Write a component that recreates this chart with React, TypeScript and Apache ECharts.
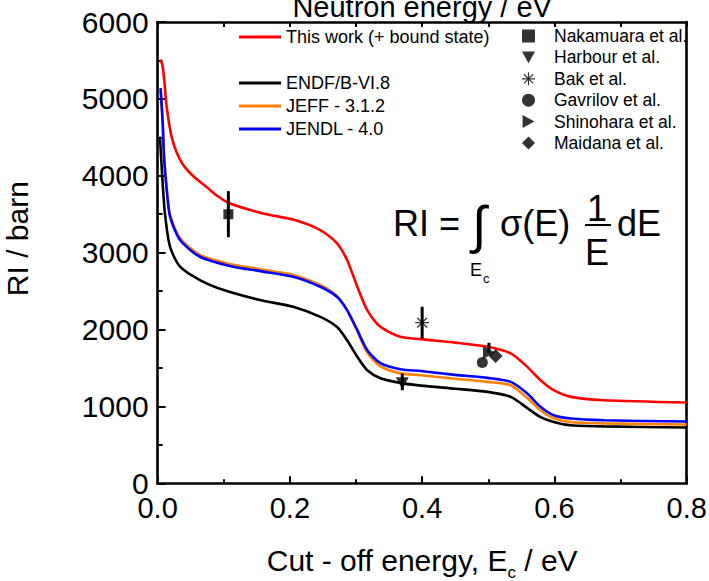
import * as echarts from 'echarts';
import { useEffect, useRef } from 'react';

const FONT = '"Liberation Sans", Arial, Helvetica, sans-serif';

// Curves (cut-off energy in eV, resonance integral in barn)
const redX = [0.004, 0.007, 0.010, 0.013, 0.017, 0.022, 0.029, 0.038, 0.049, 0.060, 0.074, 0.090, 0.108, 0.140, 0.170, 0.205, 0.246, 0.271, 0.2865, 0.302, 0.317, 0.337, 0.367, 0.398, 0.450, 0.499, 0.534, 0.559, 0.579, 0.599, 0.625, 0.675, 0.800];
const redY = [5510, 5450, 5250, 4950, 4700, 4480, 4300, 4150, 4036, 3950, 3854, 3740, 3646, 3555, 3490, 3430, 3294, 3125, 2904, 2556, 2253, 2035, 1905, 1875, 1830, 1775, 1689, 1514, 1341, 1211, 1124, 1081, 1051];

const blueX = [0.0045, 0.0077, 0.0097, 0.0138, 0.0188, 0.034, 0.064, 0.114, 0.155, 0.205, 0.246, 0.271, 0.2865, 0.302, 0.317, 0.337, 0.367, 0.398, 0.450, 0.499, 0.534, 0.559, 0.579, 0.599, 0.625, 0.675, 0.800];
const blueY = [5140, 4688, 4250, 3815, 3468, 3164, 2947, 2817, 2760, 2686, 2556, 2426, 2253, 1992, 1732, 1562, 1484, 1460, 1410, 1371, 1319, 1168, 995, 885, 842, 820, 803];

const orangeX = [0.0045, 0.0077, 0.0097, 0.0138, 0.0188, 0.034, 0.064, 0.114, 0.155, 0.205, 0.246, 0.271, 0.2865, 0.302, 0.317, 0.337, 0.367, 0.398, 0.450, 0.499, 0.534, 0.559, 0.579, 0.599, 0.625, 0.675, 0.800];
const orangeY = [5120, 4700, 4270, 3840, 3495, 3190, 2972, 2842, 2785, 2710, 2578, 2440, 2250, 1975, 1700, 1520, 1430, 1406, 1360, 1319, 1276, 1110, 950, 846, 798, 780, 764];

const blackX = [0.0036, 0.0067, 0.011, 0.0188, 0.034, 0.064, 0.100, 0.155, 0.205, 0.246, 0.271, 0.2865, 0.302, 0.317, 0.337, 0.367, 0.398, 0.450, 0.499, 0.534, 0.560, 0.579, 0.599, 0.625, 0.675, 0.800];
const blackY = [4510, 4036, 3516, 3077, 2817, 2643, 2513, 2383, 2296, 2165, 2035, 1862, 1645, 1471, 1367, 1306, 1270, 1230, 1189, 1124, 972, 860, 798, 755, 740, 725];

// Experimental points [x, value, errorLow, errorHigh]
const nakamura = [[0.107, 3500, 3200, 3800]];
const harbour = [[0.370, 1300, 1210, 1428]];
const bak = [[0.400, 2090, 1884, 2296]];
const gavrilov = [[0.491, 1570, 1570, 1570]];
const shinohara = [[0.501, 1700, 1700, 1827]];
const maidana = [[0.511, 1655, 1655, 1655]];

const xTickLabels = ['0.0', '0.2', '0.4', '0.6', '0.8'];

const ASTERISK =
  'path://M9.1 0 L10.9 0 L10.9 20 L9.1 20 Z M0 9.1 L20 9.1 L20 10.9 L0 10.9 Z M3.6 2.4 L17.6 16.4 L16.4 17.6 L2.4 3.6 Z M16.4 2.4 L17.6 3.6 L3.6 17.6 L2.4 16.4 Z';
const TRI_DOWN = 'path://M0 0 L12 0 L6 11 Z';
const TRI_RIGHT = 'path://M0 0 L11 6 L0 12 Z';
const SQUARE = 'path://M0 0 L10 0 L10 10 L0 10 Z';
const DIAMOND = 'path://M7 0 L14 7 L7 14 L0 7 Z';

const zip = (xs: number[], ys: number[]) => xs.map((x, i) => [x, ys[i]]);

export default function App() {
  const ref = useRef<HTMLDivElement>(null);

  useEffect(() => {
    if (!ref.current) return;
    const chart = echarts.init(ref.current, undefined, { renderer: 'svg' });

    const lineSeries = (name: string, color: string, data: number[][]) => ({
      name,
      type: 'line',
      data,
      showSymbol: false,
      symbol: 'none',
      smooth: 0.25,
      lineStyle: { color, width: 2.6 },
      itemStyle: { color },
      z: 3,
    });

    const scatter = (name: string, symbol: string, size: number | number[], data: number[][]) => ({
      name,
      type: 'scatter',
      data: data.map((d) => [d[0], d[1]]),
      symbol,
      symbolSize: size,
      itemStyle: { color: '#000' },
      z: 6,
    });

    const allErr = [...nakamura, ...harbour, ...bak, ...shinohara].map((d) => [d[0], d[2], d[3]]);

    const legendText = { color: '#000', fontFamily: FONT, fontSize: 18, lineHeight: 20 };

    const option: any = {
      animation: false,
      backgroundColor: '#fff',
      grid: { left: 157.6, right: 22.3, top: 22, bottom: 97.7, containLabel: false, outerBoundsMode: 'none' },
      legend: [
        {
          data: ['This work (+ bound state)'],
          left: 239, top: 27, padding: 0,
          icon: 'rect', itemWidth: 42, itemHeight: 3,
          textStyle: legendText, selectedMode: false,
        },
        {
          data: ['ENDF/B-VI.8', 'JEFF - 3.1.2', 'JENDL - 4.0'],
          orient: 'vertical', left: 239, top: 73, padding: 0, itemGap: 3,
          icon: 'rect', itemWidth: 42, itemHeight: 3,
          textStyle: legendText, selectedMode: false,
        },
        {
          data: [
            { name: 'Nakamuara et al.', icon: SQUARE },
            { name: 'Harbour et al.', icon: TRI_DOWN },
            { name: 'Bak et al.', icon: ASTERISK },
            { name: 'Gavrilov et al.', icon: 'circle' },
            { name: 'Shinohara et al.', icon: TRI_RIGHT },
            { name: 'Maidana et al.', icon: DIAMOND },
          ],
          orient: 'vertical', left: 522, top: 26, padding: 0, itemGap: 1.4,
          itemWidth: 13, itemHeight: 13,
          textStyle: { ...legendText, fontSize: 17.5, padding: [0, 0, 0, 14] }, selectedMode: false,
        },
      ],
      xAxis: [
        {
          type: 'value', position: 'bottom', min: 0, max: 0.8, interval: 0.2,
          name: '{a|Cut - off energy, E}{s|c}{a| / eV}',
          nameLocation: 'middle', nameGap: 56,
          nameTextStyle: {
            color: '#000', fontFamily: FONT, fontSize: 30,
            rich: {
              a: { fontFamily: FONT, fontSize: 30, lineHeight: 42, color: '#000' },
              s: { fontFamily: FONT, fontSize: 17, lineHeight: 12, verticalAlign: 'bottom', color: '#000' },
            },
          },
          axisLine: { show: true, onZero: false, lineStyle: { color: '#000', width: 2.6 } },
          axisTick: { show: true, inside: true, length: 7, lineStyle: { color: '#000', width: 2 } },
          minorTick: { show: true, splitNumber: 2, length: 4, lineStyle: { color: '#000', width: 2 } },
          splitLine: { show: false },
          axisLabel: {
            color: '#000', fontFamily: FONT, fontSize: 29, margin: 10,
            formatter: (v: number) => xTickLabels[Math.round(v / 0.2)] ?? '',
          },
        },
        {
          type: 'value', position: 'top', min: 0, max: 0.8, interval: 0.1,
          name: 'Neutron energy / eV', nameLocation: 'middle', nameGap: 0.5,
          nameTextStyle: { color: '#000', fontFamily: FONT, fontSize: 29 },
          axisLine: { show: true, onZero: false, lineStyle: { color: '#000', width: 2.6 } },
          axisTick: { show: true, inside: true, length: 5, lineStyle: { color: '#000', width: 2 } },
          axisLabel: { show: false },
          splitLine: { show: false },
        },
      ],
      yAxis: [
        {
          type: 'value', position: 'left', min: 0, max: 6000, interval: 1000,
          name: 'RI / barn', nameLocation: 'middle', nameGap: 125,
          nameTextStyle: { color: '#000', fontFamily: FONT, fontSize: 30, padding: [0, 0, 0, 28] },
          axisLine: { show: true, onZero: false, lineStyle: { color: '#000', width: 2.6 } },
          axisTick: { show: true, inside: true, length: 8, lineStyle: { color: '#000', width: 2 } },
          minorTick: { show: true, splitNumber: 2, length: 5, lineStyle: { color: '#000', width: 2 } },
          splitLine: { show: false },
          axisLabel: { color: '#000', fontFamily: FONT, fontSize: 30, margin: 9, formatter: (v: number) => String(v) },
        },
        {
          type: 'value', position: 'right', min: 0, max: 6000, interval: 1000,
          axisLine: { show: true, onZero: false, lineStyle: { color: '#000', width: 2.6 } },
          axisTick: { show: false },
          axisLabel: { show: false },
          splitLine: { show: false },
        },
      ],
      series: [
        lineSeries('ENDF/B-VI.8', '#000000', zip(blackX, blackY)),
        lineSeries('JEFF - 3.1.2', '#ff8000', zip(orangeX, orangeY)),
        lineSeries('JENDL - 4.0', '#0000ff', zip(blueX, blueY)),
        lineSeries('This work (+ bound state)', '#ff0000', zip(redX, redY)),
        {
          name: 'errors',
          type: 'custom',
          data: allErr,
          encode: { x: 0, y: [1, 2] },
          z: 5,
          renderItem: (_p: any, api: any) => {
            const a = api.coord([api.value(0), api.value(1)]);
            const b = api.coord([api.value(0), api.value(2)]);
            return {
              type: 'line',
              shape: { x1: a[0], y1: a[1], x2: b[0], y2: b[1] },
              style: { stroke: '#000', lineWidth: 3 },
            };
          },
        },
        scatter('Nakamuara et al.', SQUARE, 10, nakamura),
        scatter('Harbour et al.', TRI_DOWN, [13, 12], harbour),
        scatter('Bak et al.', ASTERISK, 14, bak),
        scatter('Gavrilov et al.', 'circle', 11, gavrilov),
        scatter('Shinohara et al.', TRI_RIGHT, [12, 13], shinohara),
        scatter('Maidana et al.', DIAMOND, 14, maidana),
      ],
      graphic: [
        { type: 'text', x: 393, y: 223.4, style: { text: 'RI =', font: `36px ${FONT}`, fill: '#000', align: 'left', verticalAlign: 'middle' }, z: 10 },
        { type: 'text', x: 479, y: 225, style: { text: '\u222B', font: `52px ${FONT}`, fill: '#000', align: 'center', verticalAlign: 'middle' }, z: 10 },
        { type: 'text', x: 470, y: 269.7, style: { text: 'E', font: `18px ${FONT}`, fill: '#000', align: 'left', verticalAlign: 'middle' }, z: 10 },
        { type: 'text', x: 483, y: 278.5, style: { text: 'c', font: `13px ${FONT}`, fill: '#000', align: 'left', verticalAlign: 'middle' }, z: 10 },
        { type: 'text', x: 500, y: 223.4, style: { text: '\u03C3(E)', font: `36px ${FONT}`, fill: '#000', align: 'left', verticalAlign: 'middle' }, z: 10 },
        { type: 'text', x: 597, y: 208.4, style: { text: '1', font: `36px ${FONT}`, fill: '#000', align: 'center', verticalAlign: 'middle' }, z: 10 },
        { type: 'line', shape: { x1: 585, y1: 225, x2: 611, y2: 225 }, style: { stroke: '#000', lineWidth: 2 }, z: 10 },
        { type: 'text', x: 597, y: 252.4, style: { text: 'E', font: `36px ${FONT}`, fill: '#000', align: 'center', verticalAlign: 'middle' }, z: 10 },
        { type: 'text', x: 617, y: 223.4, style: { text: 'dE', font: `36px ${FONT}`, fill: '#000', align: 'left', verticalAlign: 'middle' }, z: 10 },
      ],
    };

    chart.setOption(option);
    return () => chart.dispose();
  }, []);

  return (
    <div
      ref={ref}
      style={{ position: 'fixed', left: 0, top: 0, width: 709, height: 581, background: '#fff' }}
    />
  );
}
